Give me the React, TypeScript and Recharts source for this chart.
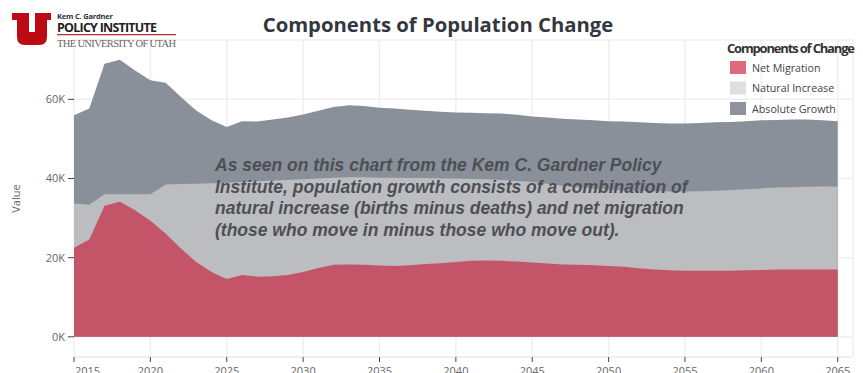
import { AreaChart, Area, XAxis, YAxis, CartesianGrid } from "recharts"

// values in thousands
const years = [
  2015, 2016, 2017, 2018, 2019, 2020, 2021, 2022, 2023, 2024,
  2025, 2026, 2027, 2028, 2029, 2030, 2031, 2032, 2033, 2034,
  2035, 2036, 2037, 2038, 2039, 2040, 2041, 2042, 2043, 2044,
  2045, 2046, 2047, 2048, 2049, 2050, 2051, 2052, 2053, 2054,
  2055, 2056, 2057, 2058, 2059, 2060, 2061, 2062, 2063, 2064, 2065,
]

const absoluteGrowth = [
  56.0, 57.7, 69.0, 70.0, 67.3, 64.8, 64.2, 60.6, 57.2, 54.7,
  53.0, 54.5, 54.4, 54.9, 55.4, 56.2, 57.1, 58.1, 58.5, 58.3,
  57.9, 57.7, 57.4, 57.1, 56.9, 56.7, 56.6, 56.5, 56.4, 56.1,
  55.7, 55.4, 55.1, 54.9, 54.7, 54.5, 54.4, 54.2, 54.0, 53.9,
  53.9, 54.0, 54.2, 54.3, 54.5, 54.7, 54.8, 54.9, 54.9, 54.7, 54.5,
]

const naturalIncrease = [
  33.7, 33.4, 36.0, 36.0, 36.0, 36.0, 38.5, 38.6, 38.7, 38.8,
  38.9, 39.1, 39.3, 39.5, 39.6, 39.8, 40.0, 40.2, 40.3, 40.3,
  40.2, 40.2, 40.1, 40.1, 40.0, 40.0, 39.9, 39.8, 39.6, 39.4,
  39.1, 38.7, 38.2, 37.8, 37.5, 37.2, 37.0, 36.9, 36.8, 36.7,
  36.7, 36.8, 36.9, 37.1, 37.3, 37.5, 37.7, 37.8, 37.9, 38.0, 38.0,
]

const netMigration = [
  22.5, 24.6, 33.1, 34.1, 32.0, 29.3, 26.1, 22.3, 18.9, 16.4,
  14.6, 15.6, 15.2, 15.3, 15.6, 16.4, 17.4, 18.2, 18.3, 18.2,
  18.0, 17.9, 18.1, 18.4, 18.6, 18.9, 19.2, 19.3, 19.2, 19.0,
  18.8, 18.5, 18.3, 18.2, 18.1, 17.9, 17.7, 17.3, 17.0, 16.8,
  16.7, 16.7, 16.7, 16.7, 16.8, 16.9, 17.0, 17.0, 17.0, 17.0, 17.0,
]

const xTicks = [2015, 2020, 2025, 2030, 2035, 2040, 2045, 2050, 2055, 2060, 2065]
const yTicks = [0, 20, 40, 60]

const legendItems = [
  { name: "Net Migration", color: "#e06a7d" },
  { name: "Natural Increase", color: "#e0e0e0" },
  { name: "Absolute Growth", color: "#8c939c" },
]

const noteLines = [
  "As seen on this chart from the Kem C. Gardner Policy",
  "Institute, population growth consists of a combination of",
  "natural increase (births minus deaths) and net migration",
  "(those who move in minus those who move out).",
]

const tickFont = "'Open Sans', sans-serif"

function YearTick(props: any) {
  const { x, y, payload } = props
  const first = payload.value === xTicks[0]
  return (
    <text
      x={first ? x + 1 : x}
      y={y}
      dy="0.71em"
      textAnchor={first ? "start" : "middle"}
      fontSize={11}
      fontFamily={tickFont}
      fill="#666"
    >
      {payload.value}
    </text>
  )
}

function Logo() {
  return (
    <g>
      <path
        d="M12,13 H29 V32 H35 V13 H51 V20 H47 V37 Q47,45 39,45 H25 Q17,45 17,37 V20 H12 Z"
        fill="#be0a14"
      />
      <text x={57} y={18.5} fontSize={7.5} fontWeight={700} fontFamily={tickFont} fill="#333" textLength={56}>
        Kem C. Gardner
      </text>
      <text x={57} y={32} fontSize={12.5} fontWeight={700} fontFamily={tickFont} fill="#222" textLength={100}>
        POLICY INSTITUTE
      </text>
      <rect x={57} y={34} width={119} height={1.3} fill="#c0303a" />
      <text x={57} y={46.5} fontSize={10.5} fontFamily="'Liberation Serif', serif" fill="#666" textLength={119}>
        THE UNIVERSITY OF UTAH
      </text>
    </g>
  )
}

export default function App() {
  const chartData = years.map((year, i) => ({
    year,
    absoluteGrowth: absoluteGrowth[i],
    naturalIncrease: naturalIncrease[i],
    netMigration: netMigration[i],
  }))

  return (
    <div style={{ position: "absolute", left: 0, top: 0, width: 863, height: 373, background: "#fff" }}>
      <AreaChart width={863} height={373} data={chartData} margin={{ top: 40, right: 10, left: 0, bottom: 0 }}>
        <CartesianGrid stroke="#efefef" strokeWidth={1.5} />
        <XAxis
          dataKey="year"
          type="number"
          domain={[2015, 2066]}
          ticks={xTicks}
          height={16}
          tickSize={5}
          tickMargin={5}
          tickLine={{ stroke: "#444" }}
          axisLine={{ stroke: "#ececec" }}
          tick={<YearTick />}
        />
        <YAxis
          type="number"
          domain={[-5.1, 75]}
          ticks={yTicks}
          width={74}
          tickSize={6}
          tickMargin={3}
          axisLine={false}
          tickLine={{ stroke: "#444" }}
          tickFormatter={(v) => `${v}K`}
          tick={{ fontSize: 11, fontFamily: tickFont, fill: "#666" }}
          label={{
            value: "Value",
            angle: -90,
            position: "insideLeft",
            offset: 16,
            style: { fontSize: 11, fontFamily: tickFont, fill: "#666", textAnchor: "middle" },
          }}
        />
        <Area
          dataKey="absoluteGrowth"
          type="linear"
          baseValue={0}
          fill="#8a9099"
          fillOpacity={1}
          stroke="none"
          isAnimationActive={false}
        />
        <Area
          dataKey="naturalIncrease"
          type="linear"
          baseValue={0}
          fill="#bcbdc1"
          fillOpacity={1}
          stroke="none"
          isAnimationActive={false}
        />
        <Area
          dataKey="netMigration"
          type="linear"
          baseValue={0}
          fill="#c45568"
          fillOpacity={1}
          stroke="none"
          isAnimationActive={false}
        />
      </AreaChart>

      <svg width={863} height={373} style={{ position: "absolute", left: 0, top: 0, pointerEvents: "none" }}>
        <Logo />
        <text
          x={438}
          y={32}
          textAnchor="middle"
          fontSize={20.3}
          fontWeight={700}
          fontFamily={tickFont}
          fill="#33373e"
        >
          Components of Population Change
        </text>

        <text x={727} y={53} fontSize={13} fontWeight={700} fontFamily={tickFont} fill="#333" textLength={128}>
          Components of Change
        </text>
        {legendItems.map((item, i) => (
          <g key={item.name}>
            <rect x={730} y={61 + i * 20.5} width={16} height={13} fill={item.color} />
            <text x={752} y={71.5 + i * 20.5} fontSize={10.7} fontFamily={tickFont} fill="#444">
              {item.name}
            </text>
          </g>
        ))}

        {noteLines.map((line, i) => (
          <text
            key={i}
            x={215}
            y={170.7 + i * 21.8}
            fontSize={17.5}
            fontWeight={700}
            fontStyle="italic"
            fontFamily="'Liberation Sans', Arial, sans-serif"
            fill="#4d4f55"
          >
            {line}
          </text>
        ))}
      </svg>
    </div>
  )
}
